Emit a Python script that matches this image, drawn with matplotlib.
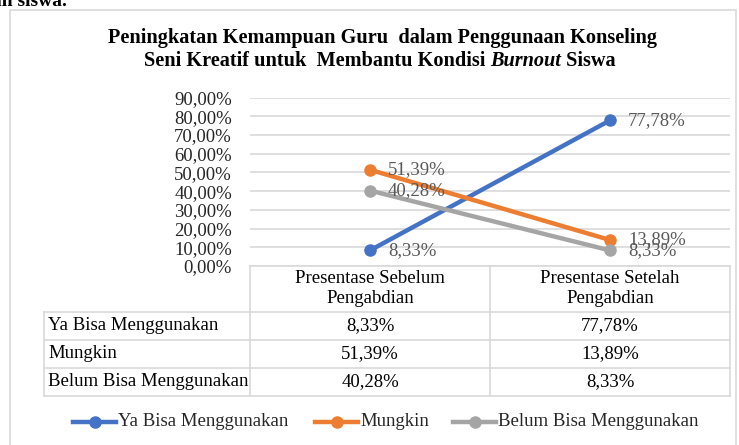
import matplotlib
matplotlib.use("Agg")
import matplotlib.pyplot as plt
from matplotlib.lines import Line2D
from matplotlib.patches import Rectangle

W, H = 739, 445
categories = ["Presentase Sebelum\nPengabdian", "Presentase Setelah\nPengabdian"]
series_names = ["Ya Bisa Menggunakan", "Mungkin", "Belum Bisa Menggunakan"]
ya_bisa = [8.33, 77.78]
mungkin = [51.39, 13.89]
belum_bisa = [40.28, 8.33]
yticks = [0, 10, 20, 30, 40, 50, 60, 70, 80, 90]
colors = ["#4472C4", "#ED7D31", "#A5A5A5"]
series = [ya_bisa, mungkin, belum_bisa]

FONT = "Liberation Serif"
plt.rcParams["font.family"] = [FONT, "DejaVu Serif"]
FS = 13.5

def fmt(v):
    return f"{v:.2f}".replace(".", ",") + "%"

def fx(x):
    return x / W

def fy(y):
    return 1 - y / H

fig = plt.figure(figsize=(W / 100, H / 100), dpi=100)
fig.patch.set_facecolor("white")

# outer chart border
fig.patches.append(Rectangle((fx(10), fy(452)), fx(736) - fx(10), fy(10) - fy(452),
                             transform=fig.transFigure, fill=False, edgecolor="#D9D9D9", lw=1.2))

# cropped text from document above
fig.text(fx(-8), fy(6), "an siswa.", fontsize=14, fontweight="bold", ha="left", va="baseline")

# title
fs_title = 14.6
fig.text(fx(382), fy(38), "Peningkatan Kemampuan Guru  dalam Penggunaan Konseling",
         fontsize=fs_title, fontweight="bold", ha="center", va="center")
pieces = [("Seni Kreatif untuk  Membantu Kondisi ", "normal"), ("Burnout", "italic"), (" Siswa", "normal")]
renderer = fig.canvas.get_renderer()
texts = []
for s, st in pieces:
    t = fig.text(0, fy(61), s, fontsize=fs_title, fontweight="bold", style=st, ha="left", va="center")
    texts.append(t)
widths = [t.get_window_extent(renderer).width for t in texts]
total = sum(widths)
x0 = 380 - total / 2
for t, w in zip(texts, widths):
    t.set_x(fx(x0))
    x0 += w

# plot area
left, right, top, bottom = 250, 730, 97.5, 266
ax = fig.add_axes([fx(left), fy(bottom), fx(right) - fx(left), fy(top) - fy(bottom)])
ax.set_xlim(-0.5, 1.5)
ax.set_ylim(0, 90)
ax.set_yticks(yticks)
ax.set_yticklabels([fmt(v) for v in yticks], fontsize=FS, color="#262626")
ax.tick_params(axis="y", length=0, pad=13)
ax.set_xticks([])
ax.grid(axis="y", color="#D9D9D9", lw=1.2)
ax.set_axisbelow(True)
for sp in ax.spines.values():
    sp.set_visible(False)
ax.patch.set_alpha(0)
xs = list(range(len(categories)))
for vals, c in zip(series, colors):
    ax.plot(xs, vals, color=c, lw=3.2, marker="o", markersize=8, solid_capstyle="round", zorder=3)
    for xi, v in zip(xs, vals):
        ax.annotate(fmt(v), (xi, v), xytext=(13, 0), textcoords="offset points",
                    ha="left", va="center", fontsize=FS, color="#595959", zorder=4)

# data table
lc = "#D9D9D9"
col_x = [44, 250, 490, 730]
row_y = [266, 312, 340, 368, 396]
def hline(y, x1, x2):
    fig.add_artist(Line2D([fx(x1), fx(x2)], [fy(y), fy(y)], color=lc, lw=1.2, transform=fig.transFigure))
def vline(x, y1, y2):
    fig.add_artist(Line2D([fx(x), fx(x)], [fy(y1), fy(y2)], color=lc, lw=1.2, transform=fig.transFigure))
hline(row_y[0], col_x[1], col_x[3])
for y in row_y[1:]:
    hline(y, col_x[0], col_x[3])
vline(col_x[0], row_y[1], row_y[-1])
for x in col_x[1:]:
    vline(x, row_y[0], row_y[-1])

for j, cat in enumerate(categories):
    cx = (col_x[j + 1] + col_x[j + 2]) / 2
    fig.text(fx(cx), fy((row_y[0] + row_y[1]) / 2 - 0.5), cat, fontsize=FS, ha="center", va="center",
             linespacing=1.22, color="#000000")
for i, (name, vals) in enumerate(zip(series_names, series)):
    cy = (row_y[i + 1] + row_y[i + 2]) / 2
    fig.text(fx(col_x[0] + 4), fy(cy), name, fontsize=FS, ha="left", va="center")
    for j, v in enumerate(vals):
        cx = (col_x[j + 1] + col_x[j + 2]) / 2
        fig.text(fx(cx), fy(cy), fmt(v), fontsize=FS, ha="center", va="center")

# legend
leg_y = 422
leg_starts = [73, 315, 453]
for name, c, xs0 in zip(series_names, colors, leg_starts):
    fig.add_artist(Line2D([fx(xs0), fx(xs0 + 43)], [fy(leg_y), fy(leg_y)], color=c, lw=3.2,
                          transform=fig.transFigure))
    fig.add_artist(Line2D([fx(xs0 + 21.5)], [fy(leg_y)], color=c, marker="o", markersize=8,
                          transform=fig.transFigure))
    fig.text(fx(xs0 + 45), fy(leg_y), name, fontsize=FS, ha="left", va="center", color="#262626")

fig.savefig("out.png", dpi=100)
